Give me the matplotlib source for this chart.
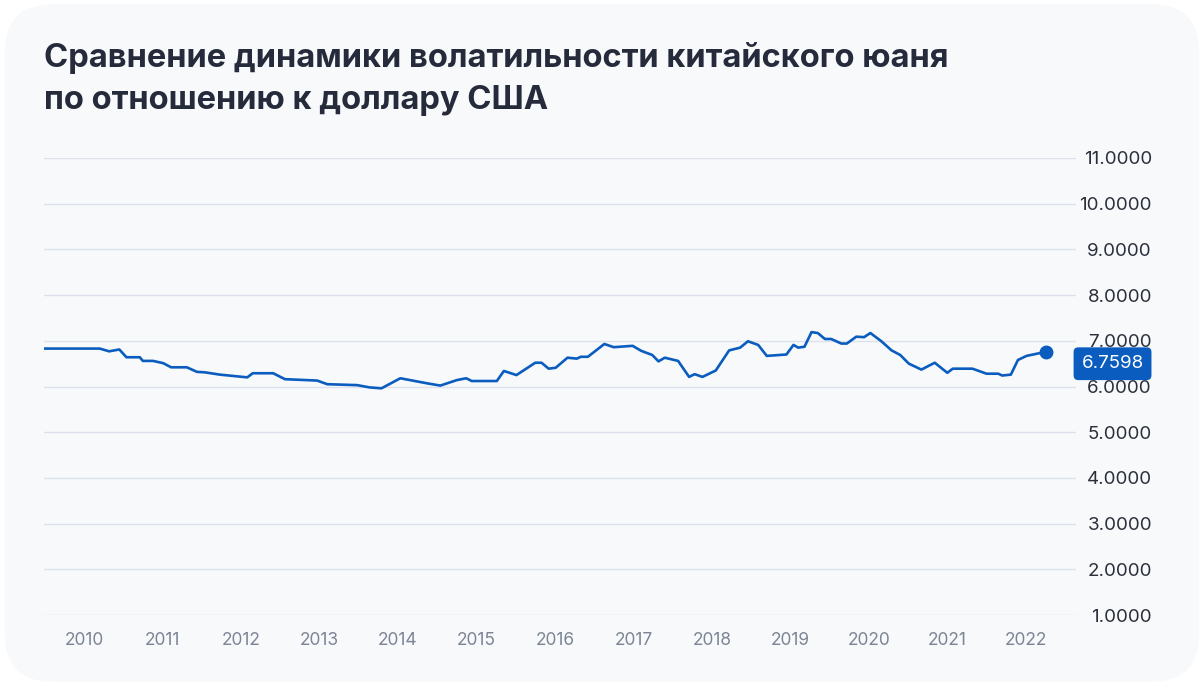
import matplotlib.pyplot as plt
from matplotlib.patches import FancyBboxPatch
from matplotlib.ticker import FixedLocator, FuncFormatter

# decimal years and CNY per USD
dates = [2009.49, 2010.20, 2010.32, 2010.45, 2010.54, 2010.71, 2010.75, 2010.88,
         2011.01, 2011.11, 2011.31, 2011.44, 2011.54, 2011.73, 2012.08, 2012.15,
         2012.41, 2012.56, 2012.97, 2013.10, 2013.48, 2013.64, 2013.79, 2014.03,
         2014.37, 2014.54, 2014.75, 2014.87, 2014.94, 2015.26, 2015.35, 2015.51,
         2015.75, 2015.83, 2015.92, 2016.01, 2016.16, 2016.28, 2016.33, 2016.42,
         2016.63, 2016.75, 2016.99, 2017.10, 2017.24, 2017.32, 2017.40, 2017.57,
         2017.71, 2017.78, 2017.88, 2018.05, 2018.22, 2018.36, 2018.46, 2018.59,
         2018.70, 2018.95, 2019.04, 2019.10, 2019.18, 2019.27, 2019.35, 2019.44,
         2019.52, 2019.65, 2019.72, 2019.84, 2019.94, 2020.02, 2020.16, 2020.29,
         2020.40, 2020.51, 2020.67, 2020.84, 2021.00, 2021.07, 2021.32, 2021.50,
         2021.65, 2021.70, 2021.81, 2021.90, 2022.01, 2022.26]
rate = [6.83, 6.83, 6.77, 6.81, 6.64, 6.64, 6.56, 6.56,
        6.51, 6.42, 6.42, 6.32, 6.31, 6.26, 6.20, 6.29,
        6.29, 6.16, 6.13, 6.05, 6.03, 5.98, 5.96, 6.18,
        6.07, 6.02, 6.14, 6.18, 6.12, 6.12, 6.34, 6.25,
        6.52, 6.52, 6.39, 6.41, 6.63, 6.61, 6.65, 6.65,
        6.93, 6.86, 6.89, 6.78, 6.69, 6.55, 6.63, 6.56,
        6.21, 6.27, 6.21, 6.35, 6.79, 6.85, 6.99, 6.91,
        6.67, 6.70, 6.91, 6.85, 6.87, 7.19, 7.17, 7.04,
        7.04, 6.94, 6.94, 7.09, 7.08, 7.17, 6.99, 6.79,
        6.69, 6.50, 6.37, 6.52, 6.30, 6.39, 6.39, 6.28,
        6.28, 6.24, 6.26, 6.58, 6.67, 6.7598]
years = list(range(2010, 2023))
yticks = [1, 2, 3, 4, 5, 6, 7, 8, 9, 10, 11]

title = "Сравнение динамики волатильности китайского юаня\nпо отношению к доллару США"

blue = "#0a5cbf"
plt.rcParams['font.family'] = ['Inter', 'DejaVu Sans']

fig = plt.figure(figsize=(12.04, 6.86), dpi=100)
fig.patch.set_facecolor("white")
panel = FancyBboxPatch((0.004, 0.006), 0.992, 0.988,
                       boxstyle="round,pad=0,rounding_size=0.04",
                       transform=fig.transFigure, facecolor="#f7f9fb",
                       edgecolor="none", mutation_aspect=1204 / 686, zorder=-5)
fig.patches.append(panel)

fig.text(44 / 1204, 1 - 42 / 686, title, fontsize=23.5, fontweight="bold",
         color="#262b3c", va="top", ha="left", linespacing=1.45)

ax = fig.add_axes([44 / 1204, 71 / 686, 1032 / 1204, 457 / 686])
ax.set_facecolor("none")
ax.plot(dates, rate, color=blue, lw=1.9, solid_joinstyle="round")
ax.plot(dates[-1], rate[-1], "o", color=blue, ms=9)

ax.set_xlim(2009.49, 2022.64)
ax.set_ylim(1, 11)
ax.yaxis.set_major_locator(FixedLocator(yticks))
ax.yaxis.set_major_formatter(FuncFormatter(lambda v, p: f"{v:.4f}"))
ax.xaxis.set_major_locator(FixedLocator(years))
ax.grid(axis="y", color="#dde1ec", lw=1)
ax.set_axisbelow(True)
for s in ax.spines.values():
    s.set_visible(False)
ax.yaxis.tick_right()
ax.tick_params(axis="y", length=0, pad=54.7, labelsize=13.5, labelcolor="#2b2f3a")
ax.tick_params(axis="x", length=0, pad=12, labelsize=12.5, labelcolor="#7d8595")
for lab in ax.get_yticklabels():
    lab.set_horizontalalignment("right")

ax.annotate(f"{rate[-1]:.4f}", xy=(1.0, rate[-1]), xycoords=("axes fraction", "data"),
            xytext=(26.3, -8.6), textcoords="offset points", ha="center", va="center",
            fontsize=13.5, color="white", zorder=5,
            bbox=dict(boxstyle="round,pad=0.42,rounding_size=0.25", fc=blue, ec="none"))

fig.savefig("out.png", dpi=100, facecolor=fig.get_facecolor())
